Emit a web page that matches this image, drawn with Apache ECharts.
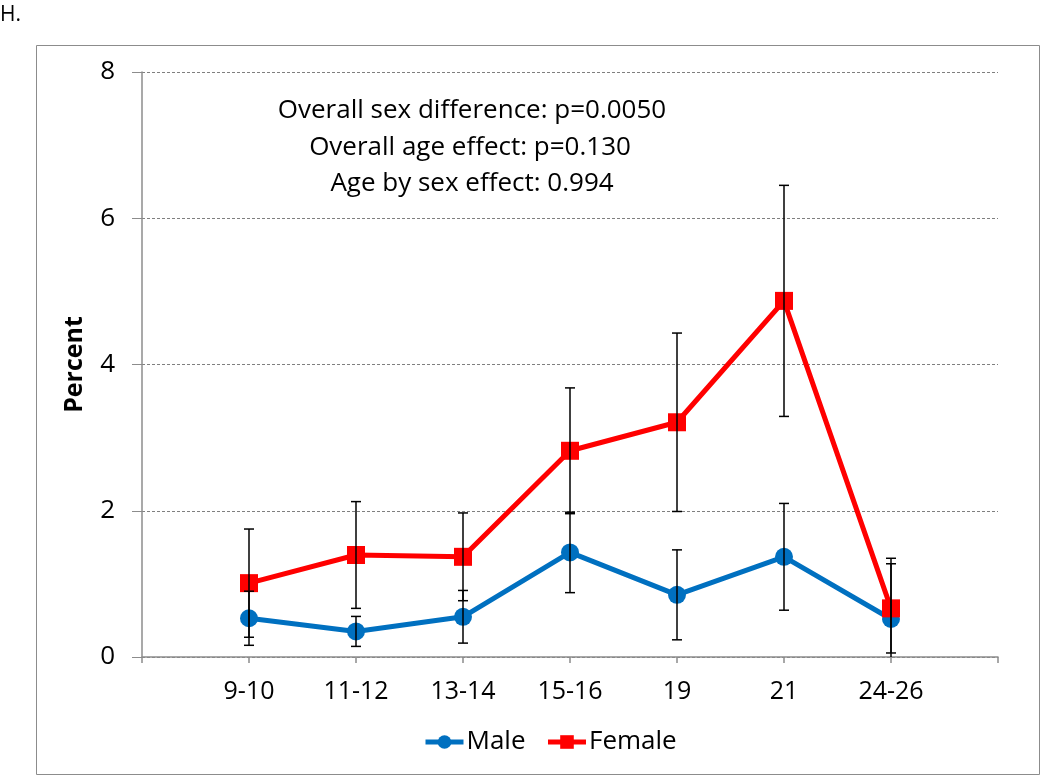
<!DOCTYPE html>
<html><head><meta charset="utf-8">
<script src="https://cdn.jsdelivr.net/npm/echarts@6/dist/echarts.min.js"></script>
<style>html,body{margin:0;padding:0;background:#fff}#c{width:1050px;height:776px}</style>
</head><body><div id="c"></div>
<script>
const categories = ['9-10', '11-12', '13-14', '15-16', '19', '21', '24-26'];
const maleValues = [0.53, 0.35, 0.55, 1.43, 0.85, 1.37, 0.52];
const maleErr = [0.37, 0.205, 0.36, 0.55, 0.615, 0.73, 0.83];
const femaleValues = [1.01, 1.395, 1.37, 2.82, 3.21, 4.87, 0.665];
const femaleErr = [0.74, 0.73, 0.6, 0.86, 1.22, 1.58, 0.61];
const yTicks = [0, 2, 4, 6, 8];
const annotations = ['Overall sex difference: p=0.0050', 'Overall age effect: p=0.130', 'Age by sex effect: 0.994'];

const FONT = 'Open Sans';
const axisCats = [''].concat(categories, ['']);
function pad(arr) { return [null].concat(arr, [null]); }
function errData(vals, errs) {
  return vals.map((v, i) => [categories[i], v - errs[i], v + errs[i]]);
}
function errRender(params, api) {
  const x = api.value(0);
  const lo = api.value(1), hi = api.value(2);
  const top = api.coord([x, hi]);
  const loC = Math.max(lo, 0);
  const bot = api.coord([x, loC]);
  const w = 5;
  const st = { stroke: '#000', lineWidth: 1.5 };
  const children = [
    { type: 'line', shape: { x1: top[0], y1: top[1], x2: bot[0], y2: bot[1] }, style: st },
    { type: 'line', shape: { x1: top[0] - w, y1: top[1], x2: top[0] + w, y2: top[1] }, style: st }
  ];
  if (lo >= 0) children.push({ type: 'line', shape: { x1: bot[0] - w, y1: bot[1], x2: bot[0] + w, y2: bot[1] }, style: st });
  return { type: 'group', children: children };
}

const chart = echarts.init(document.getElementById('c'));
chart.setOption({
  animation: false,
  backgroundColor: '#fff',
  grid: { left: 142, right: 52, top: 72, bottom: 119 },
  graphic: [
    { type: 'rect', shape: { x: 36.5, y: 45.5, width: 1003, height: 729 }, style: { fill: 'none', stroke: '#8c8c8c', lineWidth: 1 }, z: -1 },
    { type: 'text', left: 0, top: 5, style: { text: 'H.', font: '21px "' + FONT + '"', fill: '#000' } },
    { type: 'text', x: 472, y: 111, style: { text: annotations[0], font: '26px "' + FONT + '"', fill: '#000', align: 'center', verticalAlign: 'middle' } },
    { type: 'text', x: 470, y: 148, style: { text: annotations[1], font: '26px "' + FONT + '"', fill: '#000', align: 'center', verticalAlign: 'middle' } },
    { type: 'text', x: 472, y: 184, style: { text: annotations[2], font: '26px "' + FONT + '"', fill: '#000', align: 'center', verticalAlign: 'middle' } }
  ],
  legend: {
    bottom: 16, left: 418,
    itemWidth: 38, itemHeight: 17, itemGap: 20,
    lineStyle: { width: 5 },
    textStyle: { fontFamily: FONT, fontSize: 26, color: '#000', padding: [0, 0, 0, -2] },
    data: ['Male', 'Female']
  },
  xAxis: {
    type: 'category', data: axisCats, boundaryGap: false,
    axisLine: { lineStyle: { color: '#8c8c8c', width: 1.5 } },
    axisTick: { interval: 0, length: 6, lineStyle: { color: '#8c8c8c', width: 1.5 } },
    axisLabel: { interval: 0, margin: 22, fontFamily: FONT, fontSize: 25, color: '#000' },
    splitLine: { show: false }
  },
  yAxis: {
    type: 'value', min: 0, max: 8, interval: 2,
    name: 'Percent', nameLocation: 'middle', nameGap: 55,
    nameTextStyle: { fontFamily: FONT, fontSize: 25, fontWeight: 'bold', color: '#000' },
    axisLine: { show: true, lineStyle: { color: '#8c8c8c', width: 1.5 } },
    axisTick: { show: true, length: 10, lineStyle: { color: '#8c8c8c' } },
    axisLabel: { margin: 27, fontFamily: FONT, fontSize: 26, color: '#000', formatter: v => yTicks.includes(v) ? String(v) : '' },
    splitLine: { lineStyle: { type: [3, 2], color: '#7f7f7f', width: 1 } }
  },
  series: [
    {
      name: 'Male', type: 'line', data: pad(maleValues),
      symbol: 'circle', symbolSize: 18,
      lineStyle: { color: '#0070C0', width: 5 }, itemStyle: { color: '#0070C0' }, z: 2
    },
    {
      name: 'Female', type: 'line', data: pad(femaleValues),
      symbol: 'rect', symbolSize: 18,
      lineStyle: { color: '#FF0000', width: 5 }, itemStyle: { color: '#FF0000' }, z: 3
    },
    { type: 'custom', renderItem: errRender, data: errData(maleValues, maleErr), z: 5, silent: true, encode: { x: 0, y: [1, 2] } },
    { type: 'custom', renderItem: errRender, data: errData(femaleValues, femaleErr), z: 5, silent: true, encode: { x: 0, y: [1, 2] } }
  ]
});
</script></body></html>
